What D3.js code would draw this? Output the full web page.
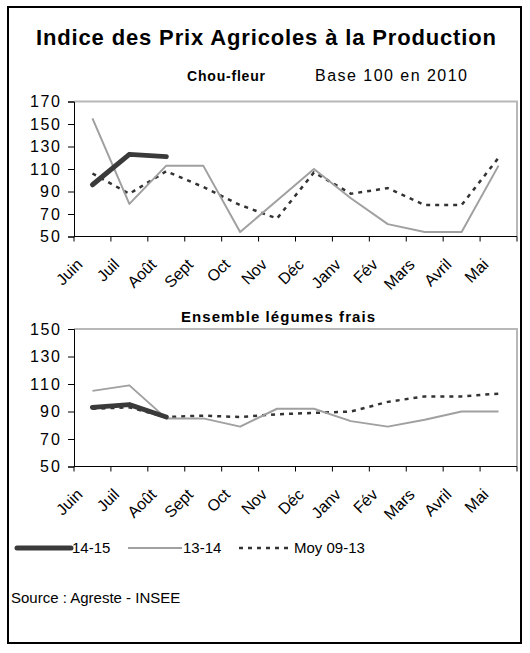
<!DOCTYPE html>
<html><head><meta charset="utf-8">
<script src="https://cdn.jsdelivr.net/npm/d3@7"></script>
<style>
body{margin:0;background:#fff;}
svg{display:block;font-family:"Liberation Sans",Arial,sans-serif;}
</style></head><body>
<svg id="c" width="530" height="653"></svg>
<script>
const months = ["Juin","Juil","Août","Sept","Oct","Nov","Déc","Janv","Fév","Mars","Avril","Mai"];
// Chou-fleur
const chou1415 = [96, 123, 121];
const chou1314 = [155, 79, 113, 113, 54, 82, 110, 84, 61, 54, 54, 113];
const chouMoy  = [106, 88, 108, 94, 78, 66, 107, 88, 93, 78, 78, 120];
const chouTicks = [50, 70, 90, 110, 130, 150, 170];
// Ensemble légumes frais
const leg1415 = [93, 95, 86];
const leg1314 = [105, 109, 85, 85, 79, 92, 92, 83, 79, 84, 90, 90];
const legMoy  = [92, 93, 86, 87, 86, 88, 89, 90, 97, 101, 101, 103];
const legTicks = [50, 70, 90, 110, 130, 150];

const seriesNames = ["14-15", "13-14", "Moy 09-13"];
const styles = [
  {stroke:"#3a3a3a", width:5, dash:null},
  {stroke:"#a0a0a0", width:2, dash:null},
  {stroke:"#333333", width:2.5, dash:"4,5"}
];

const svg = d3.select("#c");
svg.append("rect").attr("x",8).attr("y",7).attr("width",513).attr("height",636)
  .attr("fill","none").attr("stroke","#000").attr("stroke-width",2);

svg.append("text").attr("x",36).attr("y",45)
  .attr("font-weight","bold").attr("font-size",22)
  .attr("textLength",460).attr("lengthAdjust","spacing")
  .text("Indice des Prix Agricoles à la Production");

function panel(top, bottom, ticks, data, titleParts) {
  const x = d3.scaleBand().domain(months).range([74, 517]).padding(0);
  const y = d3.scaleLinear().domain([ticks[0], ticks[ticks.length-1]]).range([bottom, top]);
  const g = svg.append("g");
  g.append("path").attr("d", `M74,${top}H517V${bottom}`).attr("fill","none")
    .attr("stroke","#b8b8b8").attr("stroke-width",2);
  const ya = g.append("g").attr("transform","translate(74,0)")
    .call(d3.axisLeft(y).tickValues(ticks).tickSize(6).tickPadding(8).tickFormat(d3.format("d")));
  ya.select(".domain").attr("stroke","#000");
  ya.selectAll(".tick line").attr("stroke","#000");
  ya.selectAll("text").attr("font-size",16).attr("fill","#000")
    .attr("font-family","Liberation Sans, Arial, sans-serif")
    .attr("textLength", d => String(d).length * 10).attr("lengthAdjust","spacing");
  g.append("line").attr("x1",74).attr("x2",517).attr("y1",bottom).attr("y2",bottom).attr("stroke","#000");
  const bounds = months.map(m => x(m)).concat([x(months[months.length-1]) + x.bandwidth()]);
  g.selectAll(".xt").data(bounds).enter().append("line")
    .attr("x1",d=>d).attr("x2",d=>d).attr("y1",bottom).attr("y2",bottom+5).attr("stroke","#000");
  g.selectAll(".xl").data(months).enter().append("text")
    .attr("transform", d => `translate(${x(d)+x.bandwidth()/2-9},${bottom+29}) rotate(-45)`)
    .attr("text-anchor","end").attr("font-size",16).text(d=>d);
  const line = d3.line().x((d,i)=>x(months[i])+x.bandwidth()/2).y(d=>y(d));
  [2,1,0].forEach(k=>{
    g.append("path").datum(data[k]).attr("d", line).attr("fill","none")
      .attr("stroke", styles[k].stroke).attr("stroke-width", styles[k].width)
      .attr("stroke-dasharray", styles[k].dash).attr("stroke-linejoin","round")
      .attr("stroke-linecap", k===0 ? "round" : "butt");
  });
  titleParts(g);
}

panel(101.5, 236.5, chouTicks, [chou1415, chou1314, chouMoy], g => {
  g.append("text").attr("x",187).attr("y",81).attr("font-weight","bold").attr("font-size",14)
    .attr("textLength",78).attr("lengthAdjust","spacing").text("Chou-fleur");
  g.append("text").attr("x",315).attr("y",81).attr("font-size",16)
    .attr("textLength",152).attr("lengthAdjust","spacing").text("Base 100 en 2010");
});
panel(329, 466.5, legTicks, [leg1415, leg1314, legMoy], g => {
  g.append("text").attr("x",181).attr("y",322)
    .attr("font-weight","bold").attr("font-size",15)
    .attr("textLength",194).attr("lengthAdjust","spacing").text("Ensemble légumes frais");
});

const legX = [17, 128, 239];
const lg = svg.append("g");
seriesNames.forEach((n,k)=>{
  lg.append("line").attr("x1",legX[k]).attr("x2",legX[k]+54).attr("y1",548).attr("y2",548)
    .attr("stroke",styles[k].stroke).attr("stroke-width",styles[k].width)
    .attr("stroke-dasharray",styles[k].dash).attr("stroke-linecap", k===0?"round":"butt");
  lg.append("text").attr("x",legX[k]+55).attr("y",553).attr("font-size",15).text(n);
});
svg.append("text").attr("x",11).attr("y",603).attr("font-size",15).text("Source : Agreste - INSEE");
</script>
</body></html>
